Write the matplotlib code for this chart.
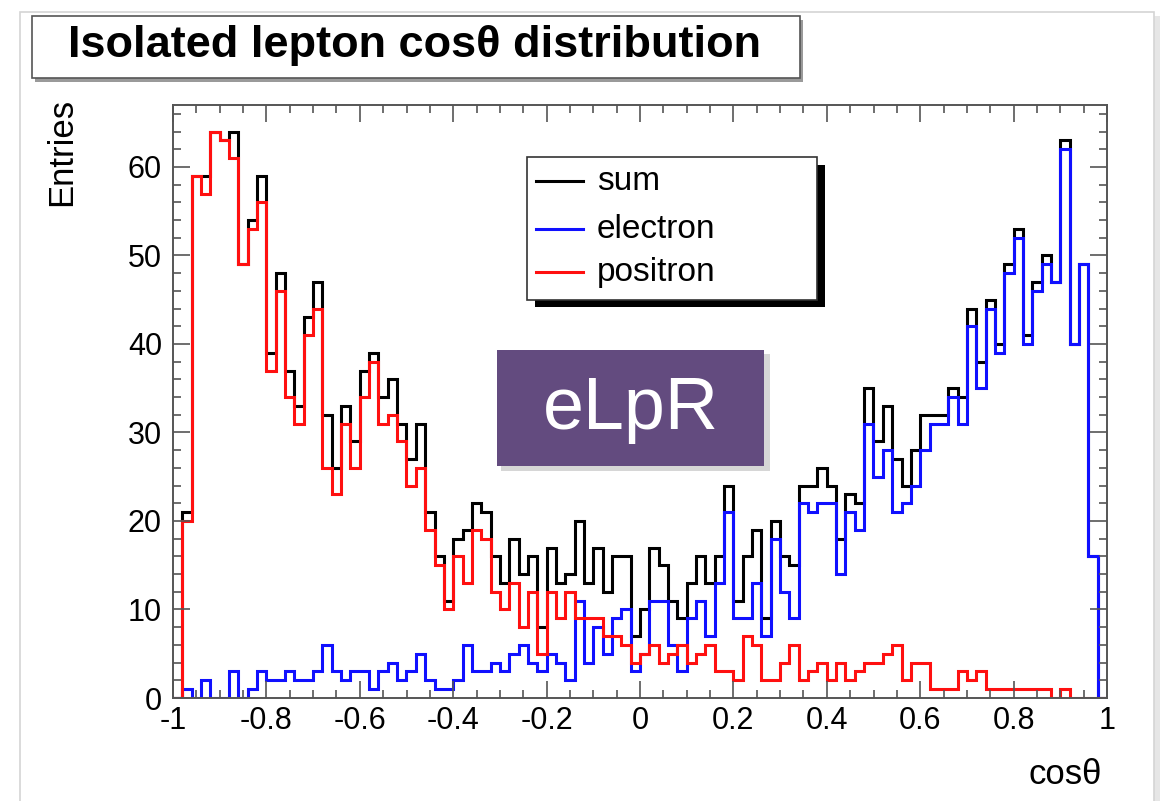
import numpy as np
import matplotlib.pyplot as plt
from matplotlib.patches import Rectangle
from matplotlib.lines import Line2D

# 100 bins from -1 to 1
edges = np.linspace(-1, 1, 101)

electron = [0, 1, 0, 2, 0, 0, 3, 0, 1, 3,
            2, 2, 3, 2, 2, 3, 6, 3, 2, 3,
            3, 1, 3, 4, 2, 3, 5, 2, 1, 1,
            2, 6, 3, 3, 4, 3, 5, 6, 4, 3,
            5, 4, 2, 11, 4, 8, 5, 9, 10, 3,
            5, 11, 11, 6, 3, 9, 11, 7, 13, 21,
            9, 9, 13, 7, 18, 12, 9, 22, 21, 22,
            22, 14, 21, 19, 31, 25, 28, 21, 22, 24,
            28, 31, 31, 34, 31, 42, 35, 44, 39, 48,
            52, 40, 46, 49, 47, 62, 40, 49, 16, 0]

positron = [0, 20, 59, 57, 64, 63, 61, 49, 53, 56,
            37, 46, 34, 31, 41, 44, 26, 23, 31, 26,
            34, 38, 31, 32, 29, 24, 26, 19, 15, 10,
            16, 13, 19, 18, 12, 10, 13, 8, 12, 5,
            12, 9, 12, 9, 9, 9, 7, 7, 6, 4,
            5, 6, 4, 5, 6, 4, 5, 6, 3, 3,
            2, 7, 6, 2, 2, 4, 6, 2, 3, 4,
            2, 4, 2, 3, 4, 4, 5, 6, 2, 4,
            4, 1, 1, 1, 3, 2, 3, 1, 1, 1,
            1, 1, 1, 1, 0, 1, 0, 0, 0, 0]

total = np.array(electron) + np.array(positron)

xticks = [-1, -0.8, -0.6, -0.4, -0.2, 0, 0.2, 0.4, 0.6, 0.8, 1]
xticklabels = ['-1', '-0.8', '-0.6', '-0.4', '-0.2', '0', '0.2', '0.4', '0.6', '0.8', '1']
yticks = [0, 10, 20, 30, 40, 50, 60]

W, H = 1167, 801
plt.rcParams['font.family'] = ['Liberation Sans', 'DejaVu Sans']

fig = plt.figure(figsize=(W / 100, H / 100), dpi=100)
fig.patch.set_facecolor('white')


def fx(px):
    return px / W


def fy(py):
    return 1 - py / H


def box(x0, y0, x1, y1, **kw):
    # rectangle given in pixel coords (top-left origin)
    r = Rectangle((fx(x0), fy(y1)), fx(x1) - fx(x0), fy(y0) - fy(y1),
                  transform=fig.transFigure, **kw)
    fig.add_artist(r)
    return r


# page with soft shadow
box(24, 16, 1160, 830, facecolor='#e6e6e6', edgecolor='none', zorder=0)
box(20, 12, 1154, 830, facecolor='white', edgecolor='#d4d4d4', lw=1.2, zorder=0.1)

# title box
box(35, 20, 803, 82, facecolor='#9a9a9a', edgecolor='none', zorder=1)
box(32, 16, 800, 78, facecolor='white', edgecolor='#555555', lw=1.2, zorder=1.1)
fig.text(fx(68), fy(46), 'Isolated lepton cos\u03b8 distribution', fontsize=32.5,
         fontweight='bold', ha='left', va='center', zorder=2)

ax = fig.add_axes([fx(173), fy(698), fx(1107) - fx(173), fy(105) - fy(698)])
ax.set_zorder(3)
ax.stairs(total, edges, color='black', lw=2.2)
ax.stairs(electron, edges, color='#1010ff', lw=2.2)
ax.stairs(positron, edges, color='#ff1010', lw=2.2)

ax.set_xlim(-1, 1)
ax.set_ylim(0, 67)
ax.set_xticks(xticks)
ax.set_xticklabels(xticklabels)
ax.set_xticks(np.arange(-1, 1.001, 0.05), minor=True)
ax.set_yticks(yticks)
ax.set_yticks(np.arange(0, 67, 2), minor=True)
ax.tick_params(which='both', direction='in', top=True, right=True,
               color='#555555', width=1.2, labelsize=22)
ax.tick_params(which='major', length=12)
ax.tick_params(which='minor', length=6)
ax.tick_params(axis='x', pad=6)
ax.tick_params(axis='y', pad=8)
for s in ax.spines.values():
    s.set_color('#555555')
    s.set_linewidth(1.4)

fig.text(fx(62), fy(98), 'Entries', rotation=90, fontsize=25,
         ha='center', va='top')
fig.text(fx(1102), fy(775), 'cos\u03b8', fontsize=25, ha='right', va='center')

# legend with ROOT style shadow
box(535, 165, 825, 307, facecolor='black', edgecolor='none', zorder=5)
box(527, 157, 817, 300, facecolor='white', edgecolor='#333333', lw=1.2, zorder=5.1)
legend_items = [('sum', 'black', 181), ('electron', '#1010ff', 229), ('positron', '#ff1010', 272)]
for label, col, ypx in legend_items:
    fig.add_artist(Line2D([fx(536), fx(583)], [fy(ypx), fy(ypx)], color=col, lw=2.2,
                          transform=fig.transFigure, zorder=6))
    fig.text(fx(597), fy(ypx), label, fontsize=24, ha='left', va='center', zorder=6)

# eLpR tag
box(501, 354, 770, 471, facecolor='#d6d6d6', edgecolor='none', zorder=5)
box(497, 350, 764, 466, facecolor='#634b7f', edgecolor='none', zorder=5.1)
fig.text(fx(631), fy(410), 'eLpR', fontsize=53, color='white', ha='center',
         va='center', zorder=6)

fig.savefig('out.png', dpi=100)
